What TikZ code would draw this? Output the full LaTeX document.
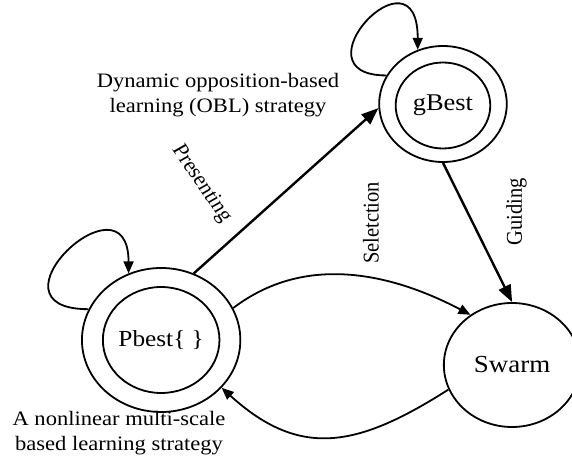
\documentclass[tikz,border=0pt]{standalone}
\usepackage{fontspec}
\setmainfont{Liberation Serif}
\usetikzlibrary{arrows.meta}
\begin{document}
\begin{tikzpicture}[x=1pt,y=1pt,xscale=1.1,
  every node/.append style={transform shape},
  ring/.style={circle, draw, line width=1.8pt, inner sep=0pt},
  lab/.style={font=\fontsize{20.5}{25}\selectfont, align=center, inner sep=0pt},
  big/.style={font=\fontsize{24}{28}\selectfont},
  strongarrow/.style={line width=2.4pt, -{Triangle[length=17pt,width=13pt]}},
  lightarrow/.style={line width=1.8pt, -{Triangle[length=12pt,width=10pt]}}]
\useasboundingbox (0,0) rectangle (520,459);
% states
\node[ring, minimum size=116pt] (gB) at (402.7,355) {};
\node[ring, minimum size=86pt, big] (gBi) at (402.7,353.5) {gBest};
\node[ring, minimum size=144pt] (Pb) at (146.5,119) {};
\node[ring, minimum size=106pt, font=\fontsize{23}{27}\selectfont] (Pbi) at (Pb) {Pbest\{ \}};
\node[ring, minimum size=124pt, font=\fontsize{24.5}{28}\selectfont] (Sw) at (465.5,94) {Swarm};
% connectors
\draw[strongarrow] (Pb.66) -- (gB.184);
\draw[strongarrow] (gB.south) -- (Sw.north);
\draw[lightarrow] (Pb.26) to[out=40,in=150] (Sw.127);
\draw[lightarrow] (Sw.203) to[out=215,in=-45,looseness=1.25] (Pb.-41);
\draw[lightarrow] (Pb.155) .. controls +(-100,0) and +(0,105) .. (Pb.114);
\draw[lightarrow] (gB.151) .. controls +(-86,0) and +(0,108) .. (gB.113);
% labels
\node[lab] (l1) at (198.2,364) {Dynamic opposition-based\\learning (OBL) strategy};
\node[lab, rotate=-58] (l2) at (183,275) {Presenting};
\node[lab, rotate=90] (l3) at (337.3,236) {Seletction};
\node[lab, rotate=90] (l4) at (469.5,247) {Guiding};
\node[lab] (l5) at (108.2,26) {A nonlinear multi-scale\\based learning strategy};
\end{tikzpicture}
\end{document}
